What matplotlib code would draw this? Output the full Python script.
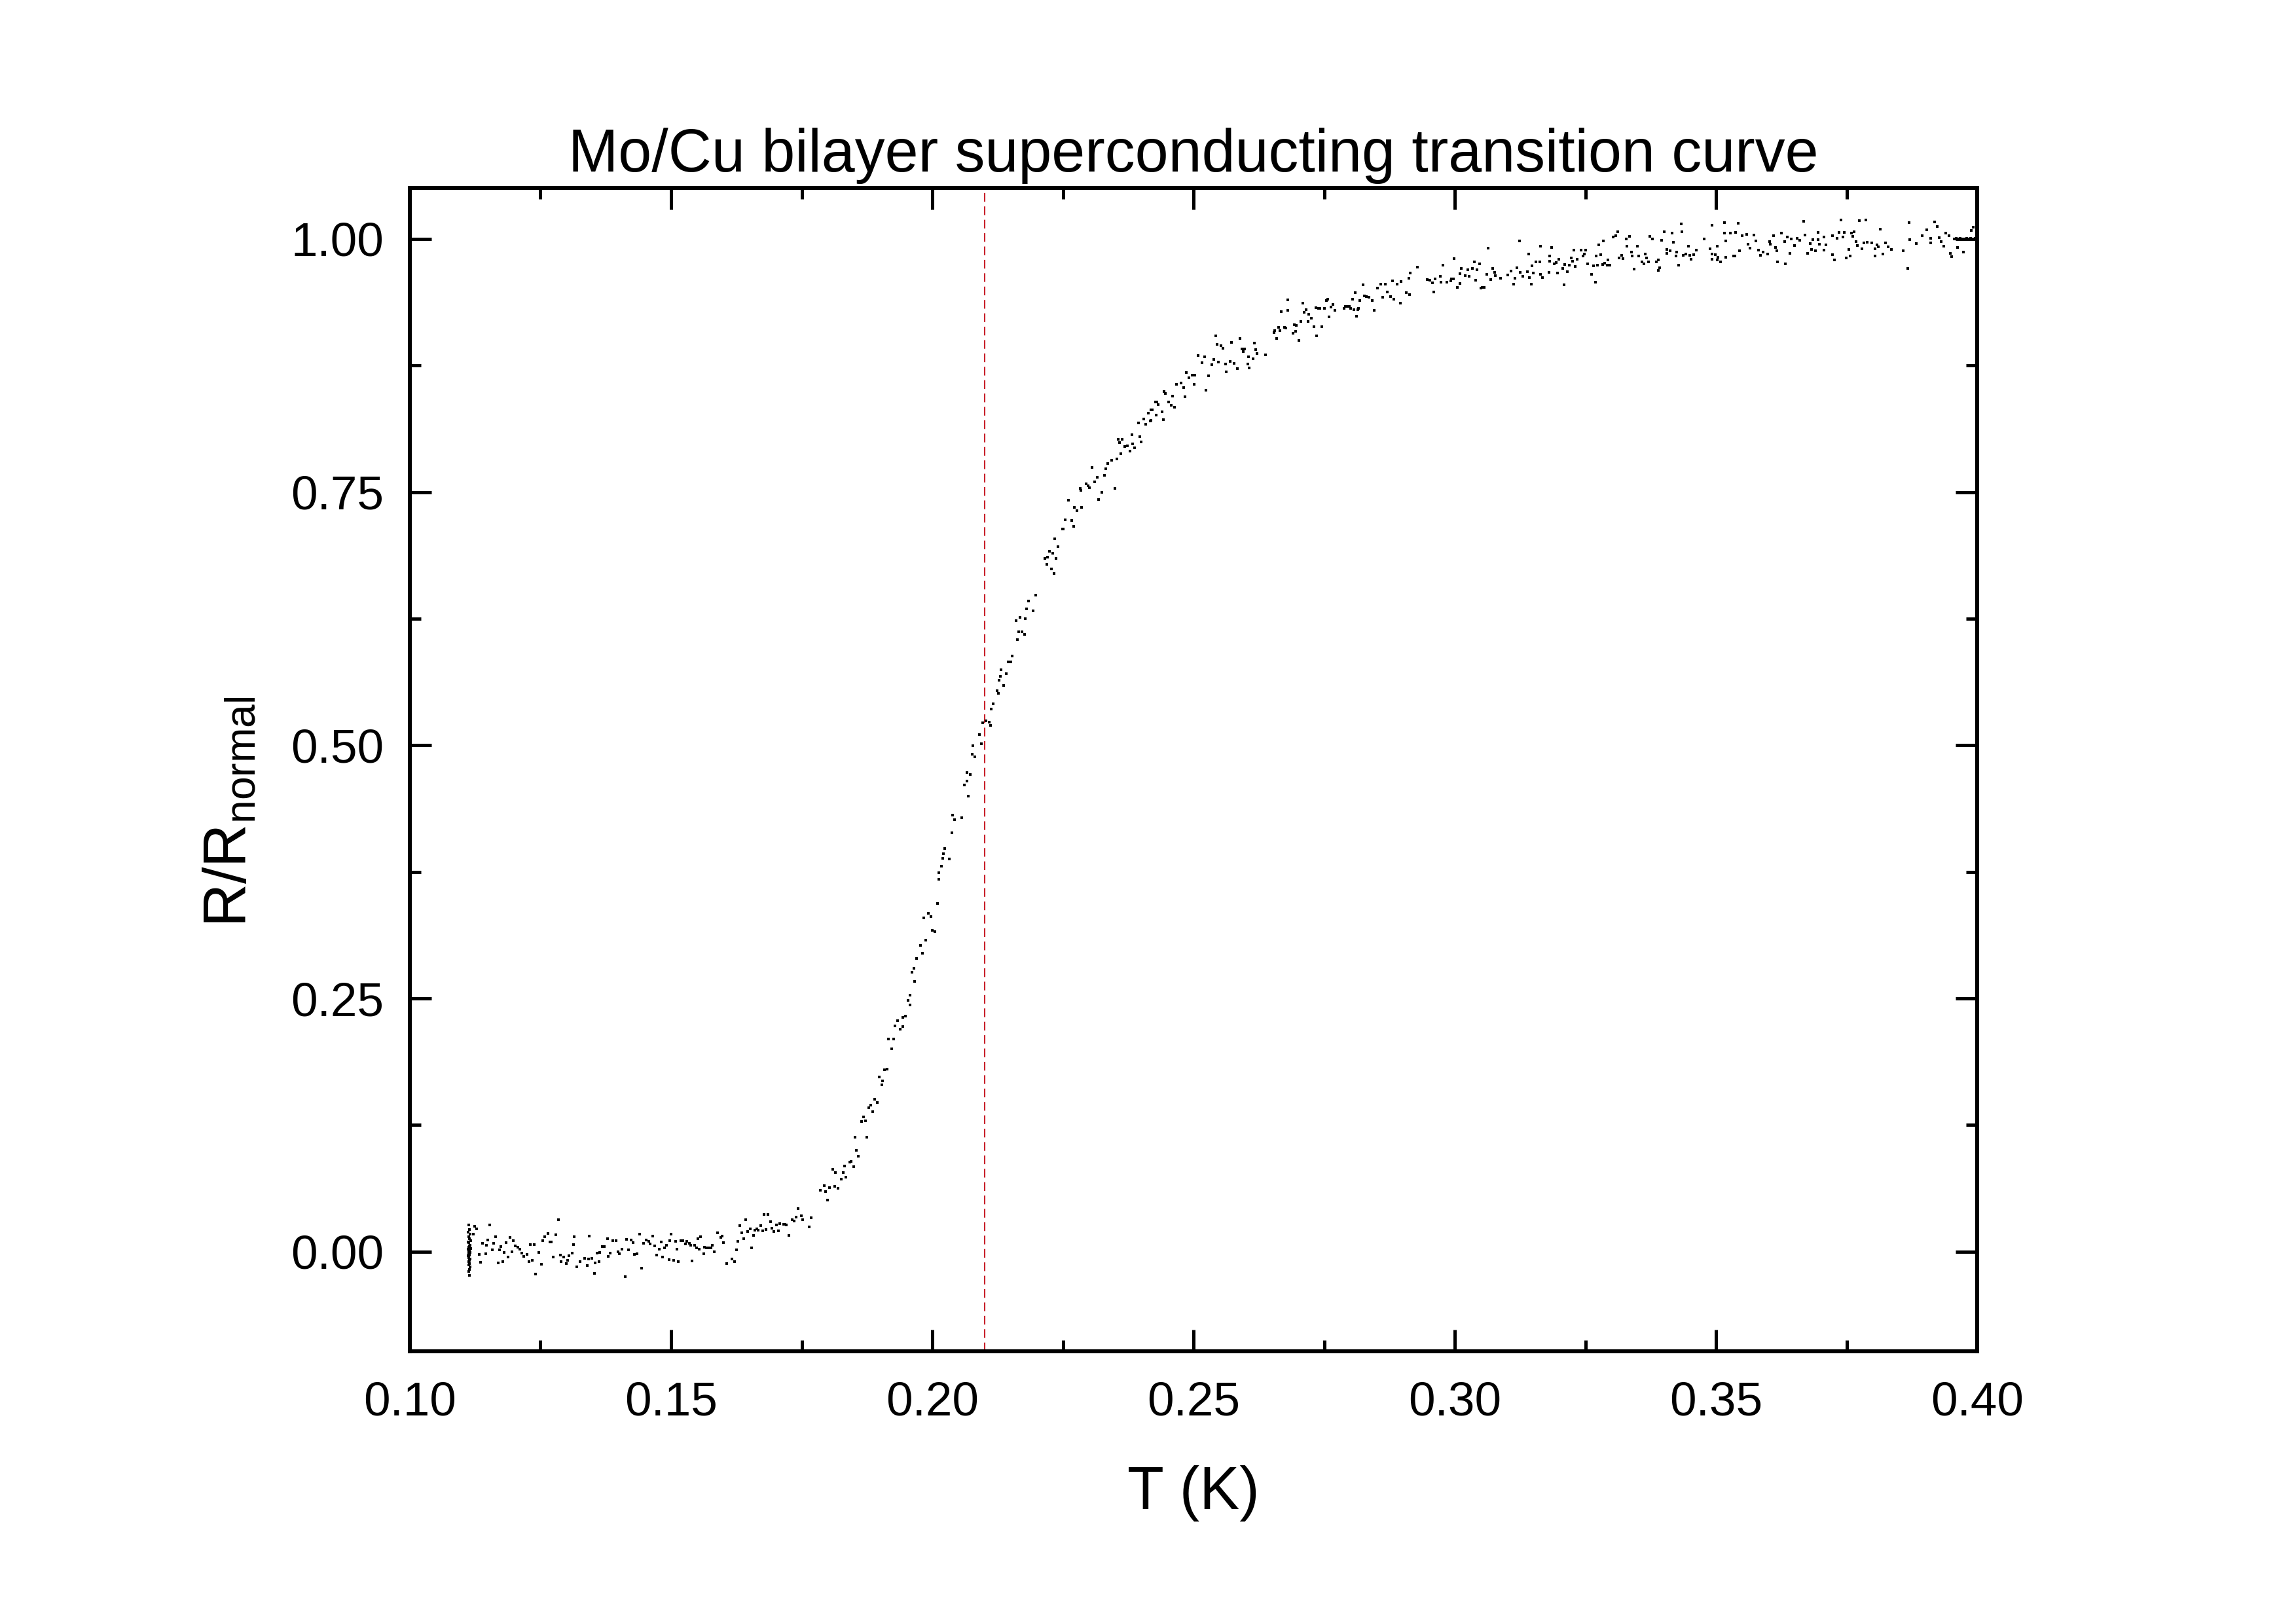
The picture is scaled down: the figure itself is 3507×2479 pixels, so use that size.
import matplotlib
matplotlib.use("Agg")
import matplotlib.pyplot as plt
import numpy as np
from matplotlib.ticker import MultipleLocator, FormatStrFormatter

# ---------------- data ----------------
# base-temperature cluster
T_cluster = [0.1113,0.1114,0.1112,0.1115,0.1113,0.1114,0.1116,0.1112,0.1113,0.1115,
             0.1114,0.1113,0.1116,0.1112,0.1114,0.1113,0.1115,0.1113,0.1114,0.1112,
             0.1113,0.1115,0.1114,0.1113,0.1114,0.1113,0.1115,0.1114,0.1113,0.1114]
R_cluster = [0.0265,0.0216,0.0195,0.0173,0.0150,0.0129,0.0108,0.0097,0.0086,0.0065,
             0.0054,0.0043,0.0030,0.0022,0.0010,0.0000,-0.0011,-0.0022,-0.0035,-0.0043,
             -0.0060,-0.0075,-0.0086,-0.0100,-0.0118,-0.0129,-0.0150,-0.0173,-0.0194,-0.0233]

# superconducting (flat) part
T_flat = [0.1124,0.1128,0.1122,0.1133,0.1135,0.1139,0.1145,0.1147,0.1149,0.1153,0.1158,0.1160,0.1164,0.1169,0.1172,0.1174,
          0.1178,0.1181,0.1184,0.1188,0.1192,0.1195,0.1198,0.1202,0.1207,0.1210,0.1214,0.1218,0.1224,0.1228,0.1231,0.1234,
          0.1238,0.1241,0.1247,0.1252,0.1255,0.1258,0.1264,0.1268,0.1271,0.1275,0.1279,0.1285,0.1288,0.1290,0.1294,0.1299,
          0.1302,0.1305,0.1311,0.1313,0.1315,0.1320,0.1326,0.1335,0.1340,0.1342,0.1343,0.1348,0.1353,0.1355,0.1358,0.1362,
          0.1364,0.1368,0.1372,0.1378,0.1380,0.1383,0.1389,0.1395,0.1398,0.1401,0.1406,0.1412,0.1415,0.1419,0.1423,0.1427,
          0.1430,0.1435,0.1440,0.1443,0.1447,0.1453,0.1457,0.1460,0.1465,0.1469,0.1473,0.1477,0.1481,0.1484,0.1487,0.1491,
          0.1496,0.1498,0.1500,0.1505,0.1509,0.1511,0.1514,0.1519,0.1522,0.1527,0.1530,0.1535,0.1538,0.1540,0.1545,0.1549,
          0.1551,0.1554,0.1557,0.1563,0.1564,0.1568,0.1571,0.1576,0.1579,0.1583,0.1589,0.1595,0.1598,0.1600,0.1607,0.1617,
          0.1622,0.1625,0.1628,0.1631,0.1635,0.1639,0.1643,0.1647,0.1652,0.1654,0.1658,0.1661,0.1664,0.1667,0.1672,0.1676,
          0.1678,0.1682,0.1686,0.1690,0.1693,0.1697,0.1702,0.1706,0.1708,0.1715,0.1718,0.1721,0.1725,0.1732,0.1736,0.1739,
          0.1743,0.1749,0.1752,0.1765,0.1768]
R_flat = [0.0248,0.0224,0.0173,-0.0026,-0.0104,0.0082,-0.0019,0.0060,0.0114,0.0265,0.0017,0.0082,0.0147,-0.0112,0.0017,0.0052,
          -0.0099,-0.0011,0.0091,-0.0054,0.0140,-0.0004,0.0106,0.0054,0.0043,0.0022,-0.0013,-0.0047,-0.0028,-0.0101,0.0071,-0.0086,
          0.0067,-0.0220,-0.0006,-0.0127,0.0110,0.0147,0.0181,0.0093,0.0097,-0.0052,0.0166,0.0313,-0.0035,-0.0101,-0.0050,-0.0119,
          -0.0084,-0.0041,-0.0013,0.0071,0.0145,-0.0151,-0.0099,-0.0067,-0.0136,-0.0073,0.0155,-0.0065,-0.0216,-0.0110,-0.0017,-0.0097,
          -0.0011,0.0052,0.0052,0.0127,-0.0047,-0.0013,0.0108,0.0106,0.0000,-0.0022,0.0026,-0.0244,0.0119,0.0017,0.0112,0.0088,
          -0.0028,-0.0022,0.0173,-0.0162,0.0082,0.0116,0.0104,0.0073,0.0151,0.0056,-0.0035,0.0026,0.0093,-0.0052,0.0035,0.0060,
          -0.0082,0.0108,0.0173,-0.0086,0.0099,0.0024,-0.0099,0.0106,0.0106,0.0078,0.0101,0.0082,0.0060,-0.0093,0.0065,0.0035,
          0.0125,0.0022,0.0147,-0.0024,0.0047,0.0035,0.0035,0.0035,0.0060,0.0000,0.0186,0.0140,0.0155,0.0088,-0.0116,-0.0071,
          -0.0099,0.0015,0.0099,0.0255,0.0188,0.0127,0.0313,0.0201,0.0226,0.0037,0.0160,0.0211,0.0224,0.0211,0.0257,0.0203,
          0.0365,0.0218,0.0367,0.0295,0.0233,0.0198,0.0263,0.0207,0.0278,0.0272,0.0270,0.0263,0.0157,0.0313,0.0300,0.0339,
          0.0425,0.0356,0.0313,0.0244,0.0334]

# onset of the transition
T_rise = [0.1786,0.1793,0.1796,0.1799,0.1803,0.1809,0.1813,0.1815,0.1820,0.1826,0.1829,0.1832,0.1835,0.1842,0.1845,0.1850,0.1852,
          0.1855,0.1858,0.1865,0.1869,0.1872,0.1875,0.1879,0.1882,0.1886,0.1890,0.1895,0.1899,0.1903,0.1905,0.1909,0.1913,0.1922]
R_rise = [0.0604,0.0651,0.0591,0.0507,0.0632,0.0811,0.0645,0.0783,0.0625,0.0714,0.0783,0.0848,0.0735,0.0882,0.0893,0.0839,0.1128,
          0.1001,0.0945,0.1283,0.1331,0.1292,0.1130,0.1419,0.1449,0.1380,0.1505,0.1473,0.1725,0.1646,0.1687,0.1794,0.1805,0.2002]

# steep part of the transition
T_steep = [0.1916,0.1926,0.1929,0.1933,0.1939,0.1944,0.1943,0.1948,0.1954,0.1957,0.1958,0.1961,0.1965,0.1966,0.1970,0.1977,
           0.1981,0.1988,0.1984,0.1993,0.1998,0.2000,0.2005,0.2010,0.2012,0.2012,0.2017,0.2020,0.2021,0.2024,0.2032,0.2037,
           0.2039,0.2042,0.2057,0.2061,0.2066,0.2069,0.2067,0.2073,0.2076,0.2082,0.2078,0.2090,0.2094,0.2097,0.2103,0.2109,
           0.2111,0.2113,0.2117,0.2124,0.2127,0.2128,0.2130,0.2132,0.2136,0.2142,0.2145,0.2150,0.2153,0.2163,0.2165,0.2172,
           0.2177,0.2160,0.2168,0.2178,0.2180,0.2193,0.2184,0.2198]
R_steep = [0.2101,0.2101,0.2226,0.2280,0.2194,0.2220,0.2315,0.2324,0.2483,0.2532,0.2434,0.2757,0.2795,0.2670,0.2893,0.3026,
           0.2945,0.3077,0.3294,0.3341,0.3309,0.3173,0.3158,0.3436,0.3678,0.3742,0.3808,0.3883,0.3927,0.3982,0.3878,0.4138,
           0.4308,0.4262,0.4282,0.4606,0.4644,0.4499,0.4733,0.4713,0.4909,0.4883,0.4993,0.5102,0.5016,0.5221,0.5238,0.5227,
           0.5195,0.5357,0.5409,0.5539,0.5513,0.5643,0.5683,0.5747,0.5588,0.5709,0.5822,0.5825,0.5882,0.6044,0.6119,0.6119,
           0.6096,0.6232,0.6261,0.6247,0.6345,0.6327,0.6422,0.6480]

# knee
T_knee = [0.2233,0.2228,0.2219,0.2215,0.2221,0.2230,0.2237,0.2224,0.2240,0.2234,0.2249,0.2251,0.2271,0.2255,0.2267,0.2272,
          0.2277,0.2286,0.2261,0.2318,0.2325,0.2349,0.2283,0.2285,0.2295,0.2298,0.2301,0.2311,0.2316,0.2330,0.2332,0.2306,
          0.2336,0.2343,0.2353,0.2361,0.2379,0.2387,0.2368,0.2373,0.2384,0.2358,0.2356,0.2364,0.2382,0.2397,0.2400,0.2395,
          0.2408,0.2417,0.2418,0.2442,0.2405,0.2413,0.2429,0.2440,0.2418,0.2421,0.2432,0.2427,0.2430,0.2453,0.2458,0.2464,
          0.2444,0.2446,0.2460,0.2484,0.2468,0.2476,0.2481,0.2501,0.2524,0.2486,0.2491,0.2498,0.2503,0.2529,0.2509,0.2521,
          0.2516,0.2535,0.2539,0.2548,0.2561,0.2570,0.2578,0.2563,0.2584,0.2604,0.2607,0.2605,0.2614,0.2619,0.2621,0.2638,
          0.2542,0.2545,0.2553,0.2557,0.2573,0.2589,0.2593,0.2598,0.2595,0.2617]
R_knee = [0.6693,0.6738,0.6787,0.6844,0.6854,0.6893,0.6846,0.6913,0.6958,0.7035,0.7137,0.7137,0.7161,0.7225,0.7217,0.7348,
          0.7316,0.7346,0.7417,0.7424,0.7499,0.7536,0.7538,0.7519,0.7581,0.7564,0.7540,0.7598,0.7644,0.7665,0.7730,0.7743,
          0.7784,0.7812,0.7827,0.7877,0.7905,0.7935,0.7948,0.7959,0.7974,0.7987,0.8021,0.8023,0.8064,0.8047,0.7993,0.8183,
          0.8172,0.8202,0.8207,0.8213,0.8224,0.8276,0.8258,0.8295,0.8312,0.8310,0.8364,0.8390,0.8392,0.8388,0.8358,0.8338,
          0.8491,0.8472,0.8448,0.8442,0.8565,0.8578,0.8528,0.8565,0.8504,0.8679,0.8627,0.8655,0.8655,0.8647,0.8847,0.8832,
          0.8776,0.8757,0.8806,0.8785,0.8763,0.8787,0.8772,0.8688,0.8718,0.8763,0.8724,0.8836,0.8817,0.8903,0.8869,0.8856,
          0.9041,0.8957,0.8944,0.8918,0.8977,0.9013,0.8912,0.8910,0.8886,0.8968]

# shoulder
T_shoulder = [0.2654,0.2656,0.2659,0.2663,0.2666,0.2668,0.2674,0.2677,0.2680,0.2680,0.2691,0.2693,0.2696,0.2697,0.2702,0.2706,
              0.2709,0.2712,0.2716,0.2719,0.2720,0.2726,0.2731,0.2734,0.2735,0.2739,0.2742,0.2745,0.2750,0.2755,0.2757,0.2759,
              0.2763,0.2767,0.2771,0.2788,0.2791,0.2794,0.2798,0.2801,0.2804,0.2807,0.2809,0.2812,0.2814,0.2816,0.2818,0.2824,
              0.2827,0.2831,0.2836,0.2842,0.2846,0.2852,0.2859,0.2862,0.2867,0.2871,0.2877,0.2881,0.2883,0.2890,0.2896,0.2897,
              0.2907,0.2912,0.2913,0.2915,0.2928,0.2947,0.2953,0.2957,0.2960,0.2963,0.2972,0.2974,0.2977,0.2985,0.2992,0.2994,
              0.2997,0.2999,0.3005,0.3010,0.3010,0.3012,0.3020,0.3025,0.3028,0.3034,0.3037,0.3040,0.3043,0.3048,0.3050,0.3053,
              0.3057,0.3061,0.3064,0.3069,0.3073,0.3076,0.3078,0.3088]
R_shoulder = [0.9074,0.9091,0.9015,0.9123,0.9093,0.9283,0.9123,0.9119,0.9397,0.9294,0.9069,0.9153,0.9084,0.9147,0.8998,0.9186,
              0.9365,0.9274,0.9302,0.9184,0.9255,0.9216,0.9134,0.9317,0.9041,0.9315,0.9315,0.9134,0.9315,0.9391,0.9402,0.9227,
              0.9324,0.9354,0.9296,0.9315,0.9333,0.9330,0.9335,0.9315,0.9406,0.9300,0.9468,0.9235,0.9302,0.9311,0.9391,0.9544,
              0.9434,0.9430,0.9423,0.9391,0.9296,0.9516,0.9550,0.9425,0.9555,0.9477,0.9427,0.9587,0.9406,0.9550,0.9367,0.9581,
              0.9468,0.9608,0.9447,0.9660,0.9723,0.9600,0.9589,0.9565,0.9477,0.9606,0.9628,0.9572,0.9738,0.9574,0.9585,0.9604,
              0.9604,0.9805,0.9522,0.9561,0.9656,0.9706,0.9639,0.9693,0.9632,0.9710,0.9770,0.9591,0.9695,0.9753,0.9516,0.9522,
              0.9518,0.9650,0.9906,0.9598,0.9710,0.9671,0.9635,0.9613]

# normal-state plateau
T_plateau = [0.3102,0.3108,0.3113,0.3115,0.3119,0.3124,0.3125,0.3130,0.3139,0.3141,0.3143,0.3147,0.3148,0.3150,0.3155,0.3164,
             0.3163,0.3164,0.3168,0.3180,0.3182,0.3182,0.3185,0.3191,0.3194,0.3199,0.3197,0.3207,0.3209,0.3210,0.3216,0.3219,
             0.3223,0.3226,0.3228,0.3230,0.3234,0.3242,0.3245,0.3250,0.3248,0.3254,0.3262,0.3266,0.3269,0.3271,0.3273,0.3276,
             0.3280,0.3284,0.3283,0.3287,0.3292,0.3293,0.3297,0.3303,0.3308,0.3312,0.3314,0.3319,0.3322,0.3328,0.3330,0.3335,
             0.3338,0.3343,0.3339,0.3349,0.3352,0.3359,0.3362,0.3365,0.3367,0.3371,0.3374,0.3379,0.3386,0.3390,0.3392,0.3390,
             0.3396,0.3401,0.3406,0.3406,0.3412,0.3416,0.3419,0.3424,0.3425,0.3429,0.3434,0.3435,0.3437,0.3442,0.3447,0.3450,
             0.3452,0.3457,0.3462,0.3478,0.3489,0.3493,0.3493,0.3493,0.3499,0.3502,0.3504,0.3503,0.3509,0.3516,0.3516,0.3519,
             0.3519,0.3527,0.3534,0.3536,0.3538,0.3542,0.3545,0.3550,0.3559,0.3562,0.3565,0.3573,0.3576,0.3581,0.3585,0.3590,
             0.3599,0.3603,0.3604,0.3610,0.3614,0.3616,0.3618,0.3625,0.3632,0.3633,0.3637,0.3641,0.3644,0.3651,0.3656,0.3660,
             0.3661,0.3668,0.3670,0.3675,0.3681,0.3683,0.3685,0.3691,0.3695,0.3696,0.3698,0.3707,0.3707,0.3711,0.3723,0.3723,
             0.3727,0.3732,0.3736,0.3739,0.3743,0.3746,0.3750,0.3755,0.3757,0.3760,0.3762,0.3765,0.3768,0.3771,0.3774,0.3779,
             0.3783,0.3787,0.3790,0.3798,0.3804,0.3805,0.3808,0.3811,0.3815,0.3820,0.3825,0.3829,0.3836,0.3858,0.3867,0.3870,
             0.3871,0.3884,0.3895,0.3903,0.3911,0.3911,0.3919,0.3923,0.3927,0.3931,0.3936,0.3940,0.3946,0.3948,0.3951,0.3958,
             0.3963,0.3968,0.3974]
R_plateau = [0.9641,0.9684,0.9555,0.9613,0.9712,0.9982,0.9671,0.9630,0.9675,0.9852,0.9619,0.9555,0.9734,0.9660,0.9775,0.9926,
             0.9775,0.9651,0.9619,0.9669,0.9833,0.9779,0.9915,0.9753,0.9766,0.9796,0.9663,0.9708,0.9544,0.9749,0.9678,0.9742,
             0.9814,0.9777,0.9891,0.9727,0.9796,0.9887,0.9831,0.9887,0.9852,0.9755,0.9651,0.9736,0.9572,0.9833,0.9740,0.9938,
             0.9846,0.9982,0.9749,0.9762,0.9740,0.9792,0.9740,1.0019,1.0029,1.0072,0.9814,0.9839,0.9803,1.0001,0.9930,1.0023,
             0.9867,0.9701,0.9833,0.9930,0.9831,0.9775,0.9753,0.9852,0.9809,0.9775,1.0027,0.9999,0.9771,0.9792,0.9712,0.9688,
             0.9988,1.0072,0.9895,0.9859,0.9885,1.0055,0.9964,0.9831,0.9872,0.9742,1.0150,1.0072,0.9839,0.9850,0.9928,0.9837,
             0.9798,0.9844,0.9887,1.0001,0.9900,0.9848,0.9796,1.0137,0.9841,0.9925,0.9818,0.9792,0.9771,1.0159,1.0057,0.9980,
             0.9818,1.0059,0.9829,0.9829,1.0061,1.0156,0.9885,1.0029,1.0046,0.9949,0.9906,1.0038,0.9982,0.9889,0.9835,0.9867,
             0.9850,0.9975,0.9947,1.0029,0.9913,0.9883,0.9775,1.0059,0.9973,0.9753,1.0016,0.9859,0.9999,0.9934,1.0003,0.9986,
             0.9984,1.0176,1.0038,0.9859,0.9956,0.9893,0.9990,0.9883,1.0066,0.9992,0.9947,1.0016,0.9891,0.9938,1.0033,0.9841,
             0.9792,1.0008,1.0061,1.0189,1.0020,1.0061,0.9809,0.9898,0.9831,1.0055,1.0023,1.0072,0.9975,0.9936,1.0182,0.9902,
             0.9960,1.0189,0.9967,0.9960,0.9833,0.9900,0.9938,0.9921,1.0094,0.9848,0.9962,0.9921,0.9895,0.9883,0.9706,1.0159,
             0.9990,0.9956,1.0029,1.0088,1.0008,0.9962,1.0165,1.0122,1.0010,0.9973,0.9925,1.0059,1.0029,0.9859,0.9822,0.9997,
             0.9917,0.9995,0.9867]

# end of the sweep (normalisation point)
T_end = [0.3956,0.3960,0.3964,0.3968,0.3972,0.3976,0.3980,0.3984,0.3988,0.3992,0.3996,0.3999,0.3989,0.3992]
R_end = [1.0000,1.0005,0.9998,1.0003,1.0001,0.9997,1.0004,1.0000,1.0002,0.9999,1.0003,1.0001,1.0085,1.0118]

T_c = 0.21  # marked transition temperature

title = "Mo/Cu bilayer superconducting transition curve"
xlabel = "T (K)"
ylabel = r"R/R$_{\mathrm{normal}}$"

# ---------------- style ----------------
plt.rcParams['font.family'] = ['Liberation Sans', 'DejaVu Sans']
plt.rcParams['mathtext.fontset'] = 'custom'
plt.rcParams['mathtext.rm'] = 'Liberation Sans'
plt.rcParams['mathtext.it'] = 'Liberation Sans:italic'
plt.rcParams['mathtext.bf'] = 'Liberation Sans:bold'
plt.rcParams['lines.scale_dashes'] = False

fig = plt.figure(figsize=(3507 / 300, 2479 / 300), dpi=300)
left, right = 626 / 3507, 3020 / 3507
bottom, top = 1 - 2064 / 2479, 1 - 286.5 / 2479
ax = fig.add_axes([left, bottom, right - left, top - bottom])

T_all = np.concatenate([T_cluster, T_flat, T_rise, T_steep, T_knee, T_shoulder, T_plateau, T_end])
R_all = np.concatenate([R_cluster, R_flat, R_rise, R_steep, R_knee, R_shoulder, R_plateau, R_end])

ax.plot(T_all, R_all, linestyle='none', marker='s', markersize=1.1,
        markeredgewidth=0, color='black', zorder=3)
ax.axvline(T_c, color='#c8202a', linewidth=0.5, linestyle=(0, (3.2, 1.7)), zorder=2)

ax.set_xlim(0.10, 0.40)
ax.set_ylim(-0.0984, 1.0506)

ax.xaxis.set_major_locator(MultipleLocator(0.05))
ax.xaxis.set_minor_locator(MultipleLocator(0.025))
ax.yaxis.set_major_locator(MultipleLocator(0.25))
ax.yaxis.set_minor_locator(MultipleLocator(0.125))
ax.xaxis.set_major_formatter(FormatStrFormatter('%.2f'))
ax.yaxis.set_major_formatter(FormatStrFormatter('%.2f'))

for s in ax.spines.values():
    s.set_linewidth(1.45)

ax.tick_params(which='both', direction='in', top=True, right=True, width=1.2, color='black')
ax.tick_params(which='major', length=7.9)
ax.tick_params(which='minor', length=4.0)
ax.tick_params(axis='x', which='major', pad=11.0, labelsize=17.5)
ax.tick_params(axis='y', which='major', pad=9.5, labelsize=17.5)

ax.set_xlabel(xlabel, fontsize=22)
ax.xaxis.set_label_coords(0.5, -0.098)
ax.set_ylabel(ylabel, fontsize=22)
ax.yaxis.set_label_coords(-0.096, 0.4636)

ax.text(0.5, 1.014, title, transform=ax.transAxes, ha='center', va='baseline', fontsize=22)

fig.savefig('out.png', dpi=300)
